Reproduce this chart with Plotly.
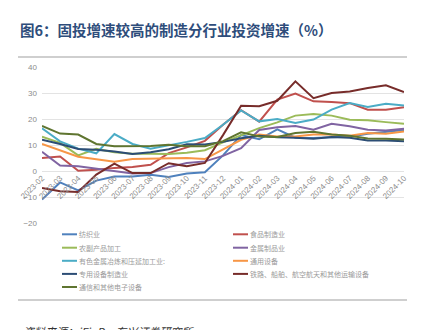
import plotly.graph_objects as go

months = ["2023-02","2023-03","2023-04","2023-05","2023-06","2023-07","2023-08","2023-09","2023-10","2023-11","2023-12",
          "2024-01","2024-02","2024-03","2024-04","2024-05","2024-06","2024-07","2024-08","2024-09","2024-10"]

textile      = [-11.0,-4.4,-7.5,-3.7,-2.1,-2.1,-1.4,-2.3,-1.0,-0.5, 6.0,13.8,12.2,16.0,12.8,12.7,13.0,13.2,14.3,15.0,15.8]
food         = [5.0,5.6,0.1,0.5,1.2,1.5,2.4,6.9,9.1,11.6,17.8,23.4,19.0,27.5,29.8,26.8,26.5,26.1,23.6,23.6,24.5]
agri         = [13.2,10.8,6.0,8.5,7.2,6.6,6.6,6.5,7.0,8.0,11.0,13.6,16.5,18.7,21.3,21.9,21.3,19.7,19.5,18.8,18.2]
metal_prod   = [7.4,2.1,1.8,0.9,-0.1,-1.0,-0.8,1.5,3.1,3.7,5.8,8.8,15.8,16.8,17.3,15.9,18.2,17.2,15.9,15.6,16.3]
nonferrous   = [16.4,11.4,8.6,6.8,14.2,10.4,8.6,9.8,11.2,12.7,17.8,23.3,19.1,20.0,18.5,19.8,23.6,26.1,24.6,25.9,25.2]
general_eq   = [10.4,8.0,5.5,4.5,3.6,4.6,4.7,5.0,5.0,4.6,8.2,12.0,14.0,13.3,13.3,14.0,14.0,13.6,14.6,14.3,15.2]
special_eq   = [12.0,10.4,8.5,8.2,7.5,6.5,7.2,8.4,10.3,10.2,11.2,12.6,13.6,13.0,12.8,12.4,13.1,12.8,11.7,11.7,11.4]
transport_eq = [-6.5,-7.8,-8.1,-1.4,2.8,-0.8,-0.8,3.0,1.8,3.1,13.8,25.1,24.9,27.0,34.5,28.0,30.0,30.6,31.9,33.0,30.4]
electronics  = [17.3,14.4,14.0,10.4,9.5,9.6,9.6,10.1,9.5,9.5,11.5,14.9,13.3,13.1,14.6,15.1,14.0,13.6,12.5,12.4,12.1]

names = ["纺织业","食品制造业","农副产品加工","金属制品业","有色金属冶炼和压延加工业:",
         "通用设备","专用设备制造业","铁路、船舶、航空航天和其他运输设备","通信和其他电子设备"]
series = [textile, food, agri, metal_prod, nonferrous, general_eq, special_eq, transport_eq, electronics]
colors = ["#4F81BD","#C0504D","#9BBB59","#8064A2","#4BACC6","#F79646","#2C4D75","#772C2A","#5F7530"]

y_ticks = [-20,-10,0,10,20,30,40]
title = "图6：固投增速较高的制造分行业投资增速（%）"
source = "资料来源：iFinD，东兴证券研究所"

W, H = 427, 330
L, R, T, B = 42, 404, 67, 223
YMIN, YMAX = -20, 40

fig = go.Figure()
for nm, vals, c in zip(names, series, colors):
    fig.add_trace(go.Scatter(x=months, y=vals, name=nm, mode="lines",
                             line=dict(color=c, width=2), showlegend=False))

def px_x(p):
    return (p - L) / (R - L)

def px_y(p):
    return (B - p) / (B - T)

shapes = []
annotations = []
# frame lines
for yy in (57, 300):
    shapes.append(dict(type="line", xref="paper", yref="paper",
                       x0=px_x(18), x1=px_x(407), y0=px_y(yy), y1=px_y(yy),
                       line=dict(color="#BFBFBF", width=1.5)))

# custom legend (two columns, row-major)
col_x = [62, 233]
row_y = [234.3, 247.7, 260.8, 273.9, 287.0]
for i, (nm, c) in enumerate(zip(names, colors)):
    cx = col_x[i % 2]
    ry = row_y[i // 2]
    shapes.append(dict(type="line", xref="paper", yref="paper",
                       x0=px_x(cx), x1=px_x(cx + 15), y0=px_y(ry), y1=px_y(ry),
                       line=dict(color=c, width=2)))
    annotations.append(dict(text=nm, xref="paper", yref="paper",
                            x=px_x(cx + 15), y=px_y(ry), xanchor="left", yanchor="middle",
                            showarrow=False, font=dict(size=7, color="#9A9A9A",
                                                        family="Noto Sans CJK SC")))

annotations.append(dict(text="<b>" + title + "</b>", xref="paper", yref="paper",
                        x=px_x(18), y=px_y(30), xanchor="left", yanchor="middle",
                        showarrow=False,
                        font=dict(size=14.5, color="#2E4D7B", family="Noto Sans CJK SC")))
annotations.append(dict(text="<i>" + source + "</i>", xref="paper", yref="paper",
                        x=px_x(21), y=px_y(321), xanchor="left", yanchor="top",
                        showarrow=False,
                        font=dict(size=11, color="#333333", family="Noto Sans CJK SC")))

fig.update_layout(
    width=W, height=H,
    margin=dict(l=L, r=W - R, t=T, b=H - B, pad=0),
    paper_bgcolor="white", plot_bgcolor="white",
    shapes=shapes, annotations=annotations,
    xaxis=dict(type="category", categoryorder="array", categoryarray=months,
               range=[0, len(months) - 1], showgrid=False, zeroline=False,
               showline=False, ticks="", tickangle=-45,
               anchor="free", position=(0 - YMIN) / (YMAX - YMIN),
               tickfont=dict(size=8, color="#8C8C8C", family="Liberation Sans")),
    yaxis=dict(range=[YMIN, YMAX], tickvals=y_ticks, showgrid=True,
               gridcolor="#E3E3E3", gridwidth=1, zeroline=False, showline=False,
               ticks="", ticklabelstandoff=4,
               tickfont=dict(size=8, color="#8C8C8C", family="Liberation Sans")),
)

fig.write_html("out.html")
